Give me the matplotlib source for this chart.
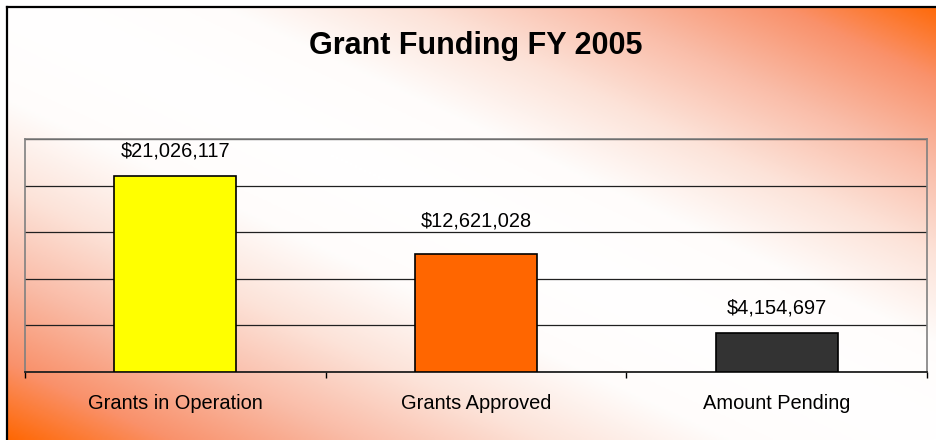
import numpy as np
import matplotlib
matplotlib.use("Agg")
import matplotlib.pyplot as plt
from matplotlib.colors import LinearSegmentedColormap
from matplotlib.lines import Line2D

plt.rcParams["font.family"] = ["Liberation Sans", "DejaVu Sans"]

# Data
categories = ["Grants in Operation", "Grants Approved", "Amount Pending"]
amounts = [21026117, 12621028, 4154697]
bar_colors = ["#FFFF00", "#FF6600", "#333333"]
title = "Grant Funding FY 2005"

# label offsets above the bar top (points)
label_pad = [18, 24, 18]

W, H = 937, 440
fig = plt.figure(figsize=(W / 100, H / 100), dpi=100)

# Background gradient: white along the TL-BR diagonal, orange toward TR and BL corners
fx0, fy0 = 7 / W, 7 / H
bg = fig.add_axes([fx0, 0, 1 - fx0, 1 - fy0], zorder=0)
nx, ny = 400, 200
u = np.linspace(fx0, 1, nx)[None, :]
v = np.linspace(fy0, 1, ny)[:, None]  # from top (v=0) to bottom
t = np.abs(u - v)
cmap = LinearSegmentedColormap.from_list("bgfade", [
    (0.0, (1, 1, 1)),
    (0.22, (1.0, 0.99, 0.985)),
    (0.42, (0.99, 0.89, 0.85)),
    (0.62, (0.98, 0.74, 0.66)),
    (0.82, (0.98, 0.57, 0.42)),
    (1.0, (1.0, 0.40, 0.0)),
])
bg.imshow(t, cmap=cmap, vmin=0, vmax=1, aspect="auto", extent=[0, 1, 0, 1],
          interpolation="bilinear")
bg.set_axis_off()

# Outer frame (top and left edges)
fig.add_artist(Line2D([fx0, fx0], [0, 1 - fy0], color="black", lw=1.6,
                      transform=fig.transFigure))
fig.add_artist(Line2D([fx0, 1], [1 - fy0, 1 - fy0], color="black", lw=1.6,
                      transform=fig.transFigure))

# Plot area
ax = fig.add_axes([25 / W, 1 - 372 / H, (927 - 25) / W, (372 - 139) / H], zorder=1)
ax.patch.set_alpha(0)

x = np.arange(len(categories))
ax.bar(x, amounts, width=0.405, color=bar_colors, edgecolor="black",
       linewidth=1.2, zorder=3)

for xi, val, pad in zip(x, amounts, label_pad):
    ax.annotate(f"${val:,}", xy=(xi, val), xytext=(0, pad),
                textcoords="offset points", ha="center", va="center",
                fontsize=14.4, color="black")

ax.set_xlim(-0.5, 2.5)
ax.set_ylim(0, 25000000)
ax.set_yticks(np.arange(0, 25000001, 5000000))
ax.yaxis.grid(True, color="#202020", linewidth=0.9)
ax.set_axisbelow(True)
ax.tick_params(axis="y", left=False, labelleft=False)

ax.set_xticks(x)
ax.set_xticklabels(categories, fontsize=14.4)
ax.tick_params(axis="x", which="major", length=0, pad=16)
ax.set_xticks([-0.5, 0.5, 1.5, 2.5], minor=True)
ax.tick_params(axis="x", which="minor", length=4, width=1, color="black")

for side in ["left", "top", "right"]:
    ax.spines[side].set_color("#808080")
    ax.spines[side].set_linewidth(1.2)
ax.spines["bottom"].set_color("#202020")
ax.spines["bottom"].set_linewidth(1.3)

fig.text(476 / W, 1 - 46 / H, title, ha="center", va="center",
         fontsize=22, fontweight="bold", color="black")

fig.savefig("out.png", dpi=100)
